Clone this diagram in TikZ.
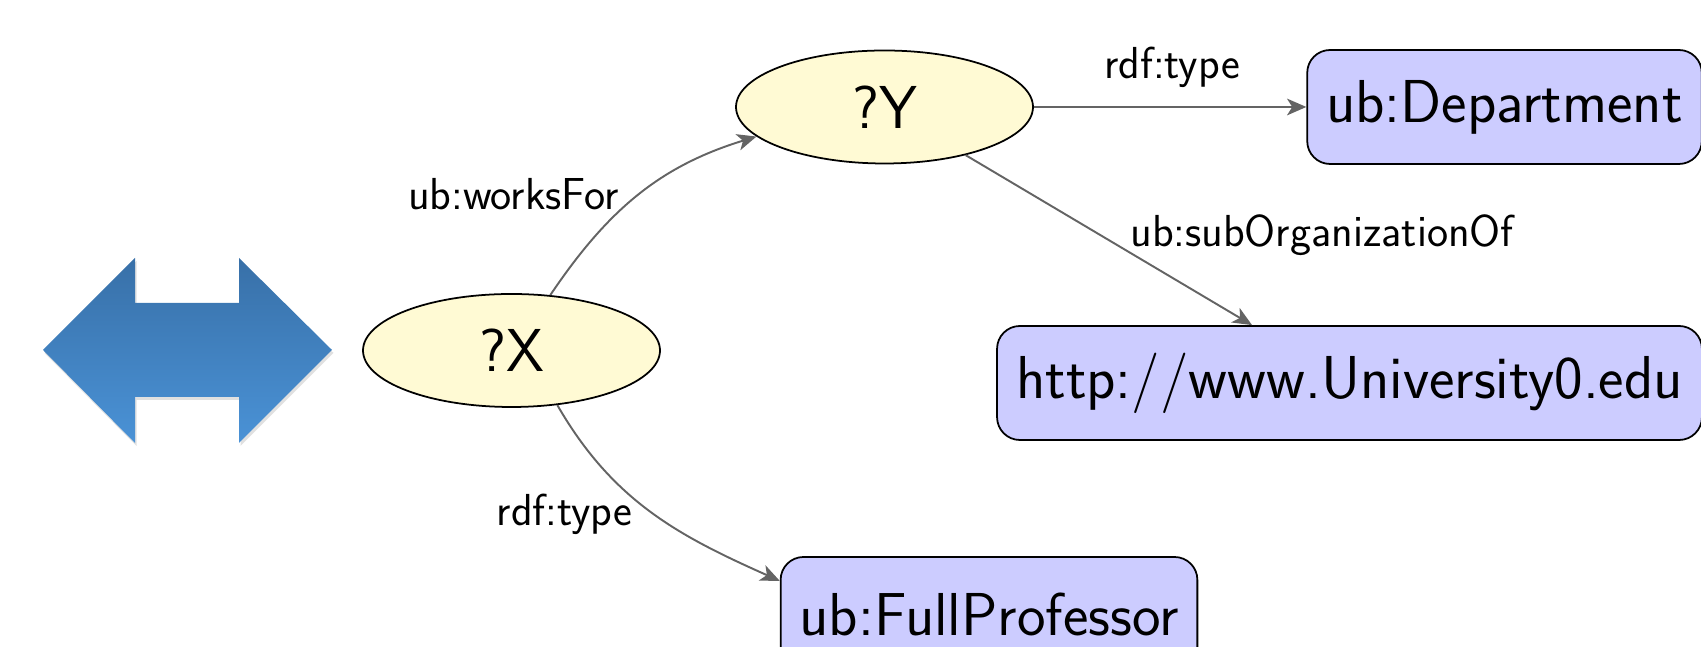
\documentclass[tikz,border=0pt]{standalone}
\usepackage{tikz}
\usetikzlibrary{arrows.meta,shapes.geometric}
\definecolor{varfill}{RGB}{255,250,212}
\definecolor{resfill}{RGB}{204,204,255}
\definecolor{edgegray}{RGB}{100,100,100}
\definecolor{swaptop}{RGB}{56,112,168}
\definecolor{swapbot}{RGB}{74,146,214}

\begin{document}
\begin{tikzpicture}[
  var/.style={ellipse,draw,line width=1pt,fill=varfill,minimum width=5.94cm,minimum height=2.26cm,inner sep=0pt,
    font=\sffamily\fontsize{34.5}{40}\selectfont},
  res/.style={rectangle,rounded corners=13pt,draw,line width=1pt,fill=resfill,minimum height=2.28cm,
    inner xsep=0.38cm,inner ysep=0pt,font=\sffamily\fontsize{34.5}{40}\selectfont},
  edge/.style={-{Stealth[length=11pt,width=9.5pt,inset=3pt]},edgegray,line width=1.1pt},
  lbl/.style={anchor=base,font=\sffamily\fontsize{25.5}{30}\selectfont}]
  \useasboundingbox (0,0) rectangle (34.02,12.94);
  \clip (0,0) rectangle (34.02,12.94);
  % ---- swap arrow on the left
  \fill[black,opacity=0.12,shift={(0.03,-0.06)}] (0.86,5.94) -- (2.70,7.78) -- (2.70,6.88) -- (4.78,6.88) -- (4.78,7.78)
    -- (6.64,5.94) -- (4.78,4.08) -- (4.78,5.00) -- (2.70,5.00) -- (2.70,4.08) -- cycle;
  \shade[top color=swaptop,bottom color=swapbot] (0.86,5.94) -- (2.70,7.78) -- (2.70,6.88) -- (4.78,6.88) -- (4.78,7.78)
    -- (6.64,5.94) -- (4.78,4.08) -- (4.78,5.00) -- (2.70,5.00) -- (2.70,4.08) -- cycle;
  % ---- query graph
  \node[var] (X) at (10.23,5.93) {?X};
  \node[var] (Y) at (17.69,10.80) {?Y};
  \node[res] (D) at (30.09,10.80) {ub:Department};
  \node[res] (U) at (26.99,5.28) {http://www.University0.edu};
  \node[res] (P) at (19.78,0.66) {ub:FullProfessor};
  \draw[edge] (X.55) to[out=56,in=197] (Y.193);
  \draw[edge] (X.-50) to[out=-60,in=156] (P.171);
  \draw[edge] (Y) -- (D);
  \draw[edge] (Y) -- (U);
  % ---- predicate labels
  \node[lbl] (lwork) at (10.27,8.74) {ub:worksFor};
  \node[lbl] (ltypeY) at (23.44,11.36) {rdf:type};
  \node[lbl] (lsub) at (26.44,8.00) {ub:subOrganizationOf};
  \node[lbl] (ltypeX) at (11.29,2.42) {rdf:type};
\end{tikzpicture}
\end{document}
